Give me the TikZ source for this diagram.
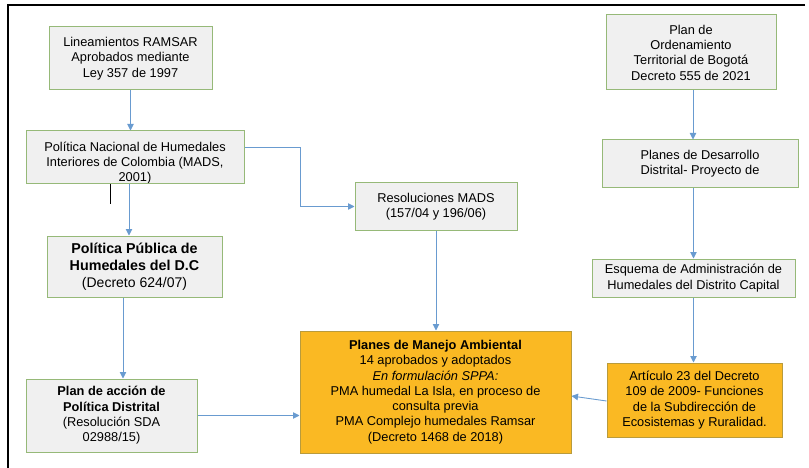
\documentclass[tikz,border=0pt]{standalone}
\usepackage{fontspec}
\setmainfont{Liberation Sans}
\usetikzlibrary{arrows.meta,calc}
\definecolor{grayfill}{RGB}{240,240,240}
\definecolor{greenline}{RGB}{150,185,120}
\definecolor{orangefill}{RGB}{250,185,35}
\definecolor{orangeline}{RGB}{185,155,60}
\definecolor{arrowblue}{RGB}{105,155,208}
\begin{document}
\begin{tikzpicture}[x=1pt,y=-1pt,
  graybox/.style={draw=greenline,fill=grayfill,line width=1pt,inner sep=0pt,align=center,
    font=\fontsize{12.8}{15.3}\selectfont},
  orangebox/.style={draw=orangeline,fill=orangefill,line width=1pt,inner sep=0pt,align=center,
    font=\fontsize{12.8}{15.3}\selectfont},
  arr/.style={draw=arrowblue,line width=0.9pt,-{Triangle[width=6.5pt,length=6.5pt]}},
  bx/.style 2 args={minimum width=#1pt,minimum height=#2pt}]
\useasboundingbox (0,0) rectangle (809,468);
% frame
\draw[line width=1.6pt] (805,5) -- (8,5) -- (8,470);

\node[graybox,bx={163}{63}] (b1) at (130.5,58.5) {Lineamientos RAMSAR\\Aprobados mediante\\Ley 357 de 1997};
\node[graybox,bx={218}{53}] (b2) at (135,157.5) {};
\begin{scope}
  \clip (26,131) rectangle (244,182.8);
  \node[align=center,inner sep=0pt,font=\fontsize{12.8}{15.3}\selectfont] (b2t) at (135,163)
    {Política Nacional de Humedales\\Interiores de Colombia (MADS,\\2001)};
\end{scope}
\node[graybox,bx={175}{61},font=\fontsize{14}{17}\selectfont] (b3) at (134.5,266.5)
  {\textbf{\fontsize{14.3}{17}\selectfont Política Pública de}\\\textbf{\fontsize{14.3}{17}\selectfont Humedales del D.C}\\(Decreto 624/07)};
\node[graybox,bx={171}{73}] (b4) at (111.5,415.5)
  {\textbf{Plan de acción de}\\\textbf{Política Distrital}\\(Resolución SDA\\02988/15)};
\node[graybox,bx={162}{47}] (res) at (436,206.5) {Resoluciones MADS\\(157/04 y 196/06)};
\node[orangebox,bx={271}{122}] (pma) at (435.5,392)
  {\textbf{Planes de Manejo Ambiental}\\14 aprobados y adoptados\\\textit{En formulación SPPA:}\\PMA humedal La Isla, en proceso de\\consulta previa\\PMA Complejo humedales Ramsar\\(Decreto 1468 de 2018)};
\node[graybox,bx={170}{75}] (pod) at (691,52.5) {Plan de\\Ordenamiento\\Territorial de Bogotá\\Decreto 555 de 2021};
\node[graybox,bx={196}{48}] (pdd) at (700,164) {Planes de Desarrollo\\Distrital- Proyecto de};
\node[graybox,bx={203}{38}] (esq) at (693.5,278) {Esquema de Administración de\\Humedales del Distrito Capital};
\node[orangebox,bx={175}{74}] (art) at (694.5,400)
  {Artículo 23 del Decreto\\109 de 2009- Funciones\\de la Subdirección de\\Ecosistemas y Ruralidad.};

% connectors
\draw[arr] (b1.south) -- (b1.south |- b2.north);
\draw[line width=0.8pt,black] ($(b2.south)+(-25,0)$) coordinate (k1) -- ($(k1)+(0,19)$);
\draw[arr] ($(b2.south)+(-6,0)$) coordinate (k2) -- (k2 |- b3.north);
\draw[arr] ($(b3.south)+(-11.5,0)$) coordinate (k3) -- (k3 |- b4.north);
\draw[arr] (b4.east) -- (b4.east -| pma.west);
\draw[arr] ($(b2.east)+(0,-10.5)$) -- ++(56,0) |- (res.west);
\draw[arr] (res.south) -- (res.south |- pma.north);
\draw[arr] ($(pod.south)+(2,0)$) coordinate (k4) -- (k4 |- pdd.north);
\draw[arr] (esq.north |- pdd.south) -- (esq.north);
\draw[arr] (esq.south) -- (esq.south |- art.north);
\draw[arr] ($(art.west)+(0,1)$) -- ($(pma.east)+(0,4)$);
\end{tikzpicture}
\end{document}
